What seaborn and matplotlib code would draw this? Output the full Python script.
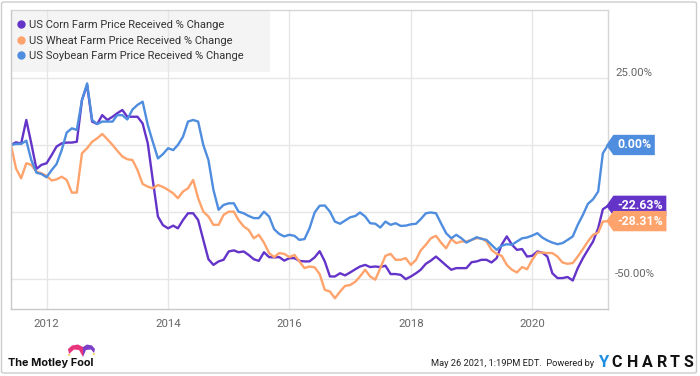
import numpy as np
import pandas as pd
import seaborn as sns
import matplotlib.pyplot as plt
from matplotlib.lines import Line2D
from matplotlib.patches import Rectangle, Polygon, FancyBboxPatch, Circle
from matplotlib.path import Path
import matplotlib.dates as mdates

dates = pd.date_range("2011-06-01", periods=119, freq="MS")

corn = [
    0, 1, 0.5, 9.3, 0.6, -8.9, -7.4, -6.8, -3.7, -0.6,
    0.6, 0.9, 0.9, 1.2, 16.7, 22.3, 8.7, 7.8, 11.1, 9.3,
    10.5, 11.8, 13.0, 10.5, 10.5, 10.5, 8.0, 0.6, -13, -26.6,
    -29.8, -31, -30, -31, -27.9, -25.4, -25.4, -27.9, -35.3, -42.5,
    -44.6, -43.3, -42.7, -39.6, -39.2, -39.9, -39.6, -40.9, -42.5, -43.1,
    -39.9, -41.7, -41.8, -41.7, -43, -42.1, -42.1, -43.1, -43.3, -43.3,
    -41.8, -39.5, -43.3, -48.9, -48.9, -47.7, -48.5, -47.4, -46.2, -45.2,
    -44.6, -45.4, -45.2, -45.4, -44.9, -48, -48, -48.3, -49.9, -48.9,
    -47.7, -46.4, -44.2, -43, -41.5, -43.1, -44.8, -46.4, -45.8,
    -45.8, -45.8, -43.6, -43.3, -42.7, -42.7, -43.7, -42.1, -37.1, -34,
    -37.1, -39, -38.7, -41.5, -41.2, -39.6, -40, -41.5, -47.7, -49.5,
    -49.5, -49.1, -50.4, -45.8, -42.1, -39, -35.9, -30.9, -23.9, -22.63,
]

wheat = [
    0, -8.7, -12.4, -6.8, -7.4, -9.9, -10.5, -11.5, -13.2, -12.8,
    -11.8, -13, -17.7, -17.7, -3.1, -1.2, 1.2, 2.5, 4.1, 2.1,
    0, -2.1, -4.3, -5.3, -5.6, -9.3, -14.5, -15.5, -16.1, -14.9,
    -15.6, -16.7, -18, -19.8, -17.3, -16.1, -13, -19.8, -24.8, -26.6,
    -29.7, -29.7, -26, -24.8, -24.8, -27.9, -30.3, -31.6, -34.7, -33.4,
    -36.3, -40.2, -41.7, -40.2, -40.5, -41.7, -40.9, -43.3, -45.8, -45.2,
    -45.5, -48, -53.9, -54.5, -57, -54.5, -52.4, -52.1, -50.8, -48.9,
    -46.4, -48.9, -50.1, -45.8, -41.2, -40.5, -42.7, -42.7, -42.1, -44.6,
    -42.7, -39.2, -37.1, -34.7, -33.8, -36.3, -38.4, -35, -36.5,
    -35.9, -35.9, -35.3, -34.7, -34.7, -35.9, -39, -40.5, -41.2, -44.6,
    -46.4, -47.4, -45.4, -46.2, -42.7, -40, -40, -40.2, -40.2, -41.5,
    -43.7, -44.2, -43.9, -41.5, -38.7, -35.9, -33.4, -32.6, -28.5, -28.31,
]

soybean = [
    0, 0.4, 0.4, 1.6, -5.6, -10.3, -10.8, -12, -9.3, -7.1,
    -1.9, 4.6, 6.2, 5.6, 16.7, 22.9, 9.3, 7.8, 8.7, 8.7,
    8.7, 11.1, 11.1, 9.5, 13.2, 14.9, 16.1, 7.4, 1.2, -5,
    -3.4, -1.2, -1.9, 0, 3.1, 8.7, 9.3, 8.7, 0, -5.6,
    -16.7, -24.1, -22.3, -21.7, -21.7, -24.8, -25.4, -26.4, -27.2, -27.2,
    -24.8, -26.6, -31.3, -33.1, -34, -33.4, -33.8, -35.3, -35, -31,
    -25.1, -22.6, -22.5, -24.8, -28.5, -29.3, -28.1, -26.9, -26.4, -25.1,
    -26.6, -29.1, -29.3, -30.7, -28.5, -29.7, -29.1, -30.1, -30, -29.5,
    -29.3, -27.6, -25.4, -25.1, -25.4, -29.1, -32.8, -34.7, -33.4,
    -34.7, -36.3, -35.3, -34.3, -34.9, -35.3, -37.1, -39, -37.5, -36.9,
    -37.1, -35.9, -34.7, -34.4, -33.7, -32.8, -34.4, -35.5, -36.3, -36.9,
    -36.5, -35.3, -34, -29.7, -26, -21.9, -20.2, -17.3, -3.1, 0,
]

series_names = [
    "US Corn Farm Price Received % Change",
    "US Wheat Farm Price Received % Change",
    "US Soybean Farm Price Received % Change",
]
end_labels = ["-22.63%", "-28.31%", "0.00%"]
colors = ["#6434c9", "#ffa36c", "#4f8ddf"]

y_ticks = [-50, -25, 0, 25]
y_tick_labels = ["-50.00%", "", "0.00%", "25.00%"]

data = pd.DataFrame({
    "Date": list(dates) * 3,
    "Change": corn + wheat + soybean,
    "Series": np.repeat(series_names, len(dates)),
})

sns.set_style("white")
plt.rcParams["font.family"] = ["Roboto", "DejaVu Sans"]

W, H = 700, 376
fig = plt.figure(figsize=(7, 3.76), dpi=100)
ax = fig.add_axes([11 / W, 1 - 309 / H, 597 / W, 299 / H])

sns.lineplot(data=data, x="Date", y="Change", hue="Series",
             palette=colors, linewidth=1.7, legend=False, ax=ax)

ax.set_xlim(dates[0], dates[-1])
ax.set_ylim(-61, 50.2)
ax.set_xlabel("")
ax.set_ylabel("")

ax.xaxis.set_major_locator(mdates.YearLocator(2))
ax.xaxis.set_major_formatter(mdates.DateFormatter("%Y"))
ax.yaxis.tick_right()
ax.set_yticks(y_ticks)
ax.set_yticklabels(y_tick_labels, va="bottom")
ax.tick_params(axis="y", length=0, pad=5, labelsize=8.2, labelcolor="#666666")
ax.tick_params(axis="x", length=0, pad=7, labelsize=8.2, labelcolor="#666666")

ax.set_axisbelow(True)
ax.grid(True, color="#e6e6e6", linewidth=1)
for s in ax.spines.values():
    s.set_color("#d6d6d6")
    s.set_linewidth(1)
ax.spines["left"].set_color("#c8c8c8")
ax.spines["bottom"].set_color("#c8c8c8")

# legend box (gridlines show through it)
ax.add_patch(Rectangle((0, 1 - 62 / 299), 259 / 597, 62 / 299,
                       transform=ax.transAxes, facecolor="#f4f4f4",
                       edgecolor="none", zorder=0.4))
handles = [Line2D([], [], marker="o", ls="", color=c, markersize=5) for c in colors]
ax.legend(handles, series_names, loc="upper left", bbox_to_anchor=(-0.011, 1.003),
          frameon=False, fontsize=8.0, handletextpad=0.2, labelspacing=0.5,
          handlelength=1.0, borderpad=0.5, labelcolor="#333333")


def tag_box(x0, y0, width, height, mutation_size):
    pad = 0.3 * mutation_size
    x0, y0 = x0 - pad, y0 - pad
    x1, y1 = x0 + width + 2 * pad, y0 + height + 2 * pad
    tip = 0.35 * (y1 - y0)
    ym = (y0 + y1) / 2
    verts = [(x0, y0), (x1, y0), (x1, y1), (x0, y1), (x0 - tip, ym), (x0, y0)]
    return Path(verts, closed=True)


last_vals = [corn[-1], wheat[-1], soybean[-1]]
for lab, v, c in zip(end_labels, last_vals, colors):
    ax.annotate(lab, xy=(1, v), xycoords=("axes fraction", "data"),
                xytext=(6.5, 0), textcoords="offset points",
                ha="left", va="center", color="white", fontsize=8.8,
                fontweight="bold", annotation_clip=False, zorder=5,
                bbox=dict(boxstyle=tag_box, fc=c, ec="none"))

# outer frame
fig.add_artist(FancyBboxPatch((1.5 / W, 3 / H), 695 / W, 371 / H,
                              boxstyle="round,pad=0,rounding_size=0.004",
                              transform=fig.transFigure, fill=False,
                              edgecolor="#cccccc", linewidth=1))


def px(x, y):
    return (x / W, 1 - y / H)


# Motley Fool jester hat
pink = [px(69, 354), px(68, 349), px(72, 345.5), px(78, 344.5), px(83, 347),
        px(83, 357), px(79, 350), px(74, 349.5)]
purple = [px(83, 347), px(87, 344.5), px(92, 345.5), px(95, 349), px(94, 353),
          px(91, 349.5), px(86, 350), px(83, 357)]
fig.add_artist(Polygon(pink, closed=True, transform=fig.transFigure,
                       facecolor="#e8347a", edgecolor="none"))
fig.add_artist(Polygon(purple, closed=True, transform=fig.transFigure,
                       facecolor="#7c3fc9", edgecolor="none"))
for bx, by in [(69, 355), (94, 354)]:
    fig.add_artist(Circle(px(bx, by), 1.3 / W, transform=fig.transFigure,
                          facecolor="#f6c22c", edgecolor="none"))

fig.text(8 / W, 1 - 363 / H, "The Motley Fool", family=["Inter", "DejaVu Sans"],
         fontweight="bold", fontsize=7.9, color="#111111", va="center", ha="left")

fig.text(594 / W, 1 - 363.5 / H, "May 26 2021, 1:19PM EDT.  Powered by",
         fontsize=6.7, color="#222222", va="center", ha="right")

fig.text(603 / W, 1 - 362.5 / H, "Y", fontsize=12, fontweight="bold",
         color="#1d8fe3", ha="center", va="center")
for letter, lx in zip("CHARTS", [617, 632.5, 647.5, 662, 675, 688]):
    fig.text(lx / W, 1 - 362.5 / H, letter, fontsize=11.5, fontweight="bold",
             color="#111111", ha="center", va="center")

fig.savefig("out.png", dpi=100)
